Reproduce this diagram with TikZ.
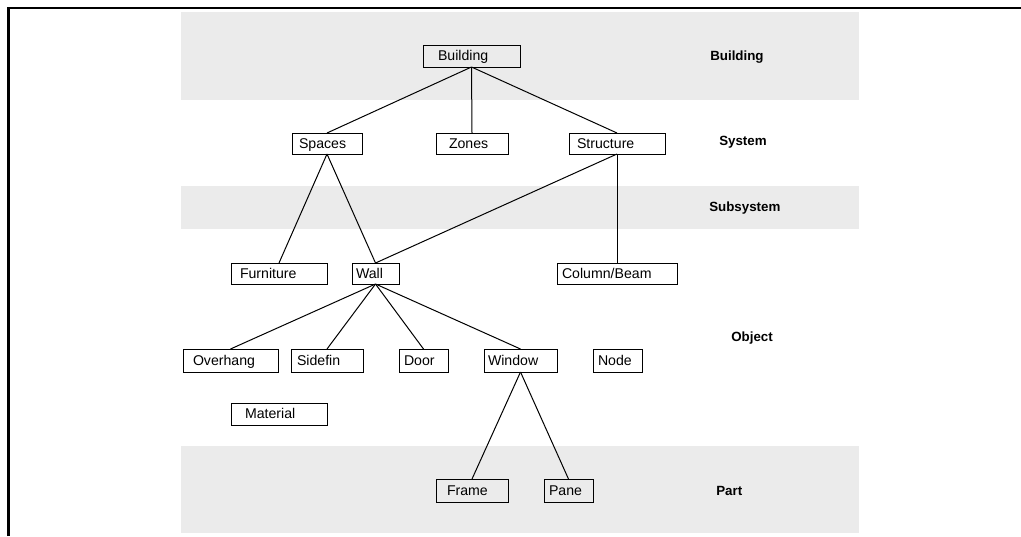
\documentclass[tikz,border=0pt]{standalone}
\usepackage{fontspec}
\setmainfont{Liberation Sans}
\begin{document}
\begin{tikzpicture}[x=0.75pt,y=-0.75pt,
  box/.style={draw, line width=0.75pt, outer sep=0pt, inner ysep=0pt, align=left,
    text height=9.5pt, text depth=2.5pt,
    font=\fontsize{10.6}{12}\selectfont, anchor=north west},
  link/.style={line width=0.75pt},
  band/.style={fill=black!8, draw=none},
  level/.style={font=\fontsize{10}{12}\selectfont\bfseries, anchor=west, inner sep=0pt},
  frame/.style={line width=1.9pt}]
\useasboundingbox (0,0) rectangle (1021,536);
% shaded bands
\fill[band] (181,12) rectangle (859,100);
\fill[band] (181,186) rectangle (859,229);
\fill[band] (181,446) rectangle (859,533);
% outer frame
\draw[frame] (8.5,536) -- (8.5,8) -- (1021,8);
% boxes
\node[box, inner xsep=15*0.75pt, text width=50.25pt, minimum height=22*0.75pt] (building) at (423,45) {Building};
\node[box, inner xsep=7*0.75pt, text width=42pt, minimum height=21*0.75pt] (spaces) at (292,133) {Spaces};
\node[box, inner xsep=13*0.75pt, text width=34.5pt, minimum height=21*0.75pt] (zones) at (436,133) {Zones};
\node[box, inner xsep=8*0.75pt, text width=60pt, minimum height=21*0.75pt] (structure) at (569,133) {Structure};
\node[box, inner xsep=9*0.75pt, text width=58.5pt, minimum height=21*0.75pt] (furniture) at (231,263) {Furniture};
\node[box, inner xsep=4*0.75pt, text width=29.25pt, minimum height=21*0.75pt] (wall) at (352,263) {Wall};
\node[box, inner xsep=5*0.75pt, text width=82.5pt, minimum height=21*0.75pt] (column) at (557,263) {Column/Beam};
\node[box, inner xsep=10*0.75pt, text width=56.25pt, minimum height=23*0.75pt] (overhang) at (183,349) {Overhang};
\node[box, inner xsep=6*0.75pt, text width=45pt, minimum height=23*0.75pt] (sidefin) at (291,349) {Sidefin};
\node[box, inner xsep=5*0.75pt, text width=29.25pt, minimum height=23*0.75pt] (door) at (399,349) {Door};
\node[box, inner xsep=4*0.75pt, text width=48.75pt, minimum height=23*0.75pt] (window) at (484,349) {Window};
\node[box, inner xsep=5*0.75pt, text width=29.25pt, minimum height=23*0.75pt] (nodebox) at (593,349) {Node};
\node[box, inner xsep=14*0.75pt, text width=51pt, minimum height=22*0.75pt] (material) at (231,403) {Material};
\node[box, inner xsep=11*0.75pt, text width=37.5pt, minimum height=23*0.75pt] (frame) at (436,479) {Frame};
\node[box, inner xsep=5*0.75pt, text width=29.25pt, minimum height=23*0.75pt] (pane) at (544,479) {Pane};
% connectors
\draw[link] (building.south) -- (spaces.north);
\draw[link] (building.south) -- (zones.north);
\draw[link] (building.south) -- (structure.north);
\draw[link] (spaces.south) -- (furniture.north);
\draw[link] (spaces.south) -- (wall.north);
\draw[link] (structure.south) -- (wall.north);
\draw[link] (structure.south) -- (column.north);
\draw[link] (wall.south) -- (overhang.north);
\draw[link] (wall.south) -- (sidefin.north);
\draw[link] (wall.south) -- (door.north);
\draw[link] (wall.south) -- (window.north);
\draw[link] (window.south) -- (frame.north);
\draw[link] (window.south) -- (pane.north);
% level labels
\node[level] (lbuilding) at (710,57) {Building};
\node[level] (lsystem) at (719,142) {System};
\node[level] (lsubsystem) at (709,208) {Subsystem};
\node[level] (lobject) at (731,338) {Object};
\node[level] (lpart) at (716,491) {Part};
\end{tikzpicture}
\end{document}
